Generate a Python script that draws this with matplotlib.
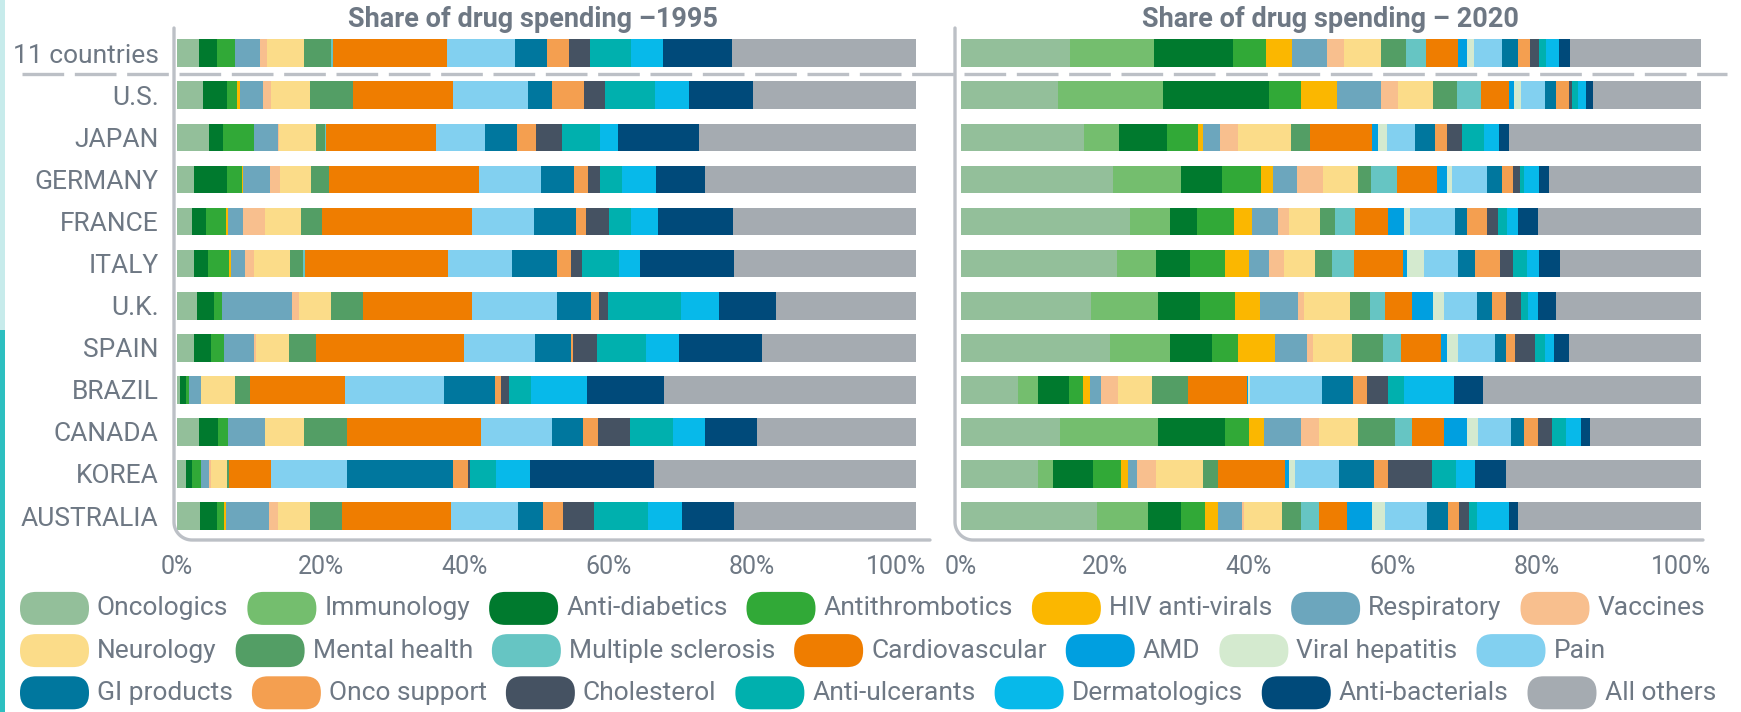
import numpy as np
import matplotlib.pyplot as plt
from matplotlib.patches import FancyBboxPatch, Rectangle
from matplotlib.lines import Line2D
from matplotlib.transforms import ScaledTranslation

categories = ['Oncologics', 'Immunology', 'Anti-diabetics', 'Antithrombotics',
              'HIV anti-virals', 'Respiratory', 'Vaccines', 'Neurology',
              'Mental health', 'Multiple sclerosis', 'Cardiovascular', 'AMD',
              'Viral hepatitis', 'Pain', 'GI products', 'Onco support',
              'Cholesterol', 'Anti-ulcerants', 'Dermatologics', 'Anti-bacterials',
              'All others']
colors = ['#93bf9a', '#74be6e', '#007a2e', '#31a937', '#fbb700', '#6ca6bd',
          '#f8bf8e', '#fbdc89', '#539e65', '#66c5c3', '#ef7d00', '#009fe0',
          '#d4eacf', '#82d0f0', '#00779e', '#f49f50', '#455262', '#00b0ae',
          '#07b9ea', '#004a7a', '#a5abb1']
countries = ['11 countries', 'U.S.', 'JAPAN', 'GERMANY', 'FRANCE', 'ITALY',
             'U.K.', 'SPAIN', 'BRAZIL', 'CANADA', 'KOREA', 'AUSTRALIA']

# share of drug spending 1995 (%), one list per country, in category order
s1995_all = [3.0, 0, 2.5, 2.4, 0, 3.4, 0.9, 5.0, 3.7, 0.2, 15.4, 0, 0, 9.2, 4.4, 2.9, 2.9, 5.5, 4.4, 9.3, 24.9]
s1995_us = [3.6, 0, 3.2, 1.4, 0.3, 3.2, 1.1, 5.2, 5.9, 0, 13.5, 0, 0, 10.1, 3.2, 4.4, 2.9, 6.7, 4.6, 8.7, 22.0]
s1995_japan = [4.4, 0, 1.8, 4.3, 0, 3.2, 0.1, 5.1, 1.1, 0.2, 14.9, 0, 0, 6.6, 4.3, 2.6, 3.5, 5.2, 2.4, 11.0, 29.3]
s1995_germany = [2.4, 0, 4.4, 2.0, 0.2, 3.6, 1.4, 4.1, 2.5, 0, 20.3, 0, 0, 8.4, 4.5, 1.8, 1.7, 2.9, 4.6, 6.6, 28.6]
s1995_france = [2.1, 0, 1.8, 2.8, 0.3, 2.0, 2.9, 4.9, 2.9, 0, 20.3, 0, 0, 8.3, 5.7, 1.3, 3.2, 2.9, 3.7, 10.1, 24.8]
s1995_italy = [2.4, 0, 1.8, 2.9, 0.3, 1.8, 1.2, 4.9, 1.8, 0.2, 19.4, 0, 0, 8.6, 6.1, 2.0, 1.4, 5.0, 2.9, 12.7, 24.6]
s1995_uk = [2.7, 0, 2.3, 1.1, 0, 9.5, 0.9, 4.4, 4.3, 0, 14.8, 0, 0, 11.4, 4.6, 1.1, 1.2, 9.9, 5.2, 7.6, 19.0]
s1995_spain = [2.4, 0, 2.3, 1.7, 0, 4.1, 0.2, 4.5, 3.7, 0, 19.9, 0, 0, 9.6, 4.9, 0.3, 3.2, 6.7, 4.4, 11.3, 20.8]
s1995_brazil = [0.4, 0, 0.9, 0.3, 0, 1.7, 0, 4.6, 2.0, 0, 12.8, 0, 0, 13.4, 6.9, 0.8, 1.2, 2.9, 7.6, 10.4, 34.1]
s1995_canada = [3.0, 0, 2.6, 1.4, 0, 5.0, 0, 5.2, 5.8, 0, 18.2, 0, 0, 9.6, 4.1, 2.1, 4.3, 5.8, 4.4, 7.0, 21.5]
s1995_korea = [1.2, 0, 0.9, 1.2, 0, 1.1, 0.2, 2.2, 0.3, 0, 5.7, 0, 0, 10.2, 14.4, 2.0, 0.3, 3.5, 4.6, 16.8, 35.4]
s1995_australia = [3.2, 0, 2.3, 0.9, 0.3, 5.8, 1.2, 4.3, 4.4, 0, 14.7, 0, 0, 9.0, 3.5, 2.6, 4.3, 7.3, 4.6, 7.0, 24.6]

# share of drug spending 2020 (%)
s2020_all = [14.8, 11.3, 10.7, 4.4, 3.6, 4.7, 2.3, 5.0, 3.3, 2.7, 4.4, 1.1, 1.0, 3.8, 2.1, 1.7, 1.2, 0.9, 1.8, 1.5, 17.7]
s2020_us = [13.1, 14.2, 14.3, 4.4, 4.8, 5.9, 2.3, 4.8, 3.2, 3.3, 3.8, 0.6, 0.9, 3.3, 1.5, 1.7, 0.5, 0.7, 1.1, 1.0, 14.6]
s2020_japan = [16.6, 4.8, 6.5, 4.2, 0.6, 2.3, 2.4, 7.2, 2.6, 0, 8.3, 0.9, 1.2, 3.8, 2.7, 1.5, 2.1, 2.9, 2.1, 1.4, 25.9]
s2020_germany = [20.5, 9.2, 5.6, 5.3, 1.6, 3.2, 3.5, 4.7, 1.8, 3.5, 5.4, 1.4, 0.6, 4.7, 2.1, 1.5, 0.9, 0.5, 2.1, 1.3, 20.6]
s2020_france = [22.8, 5.4, 3.7, 5.0, 2.4, 3.5, 1.5, 4.2, 2.0, 2.7, 4.5, 2.1, 0.9, 6.0, 1.7, 2.7, 1.4, 1.3, 1.4, 2.7, 22.1]
s2020_italy = [21.1, 5.3, 4.5, 4.8, 3.2, 2.7, 2.1, 4.1, 2.4, 2.9, 6.6, 0.5, 2.4, 4.5, 2.4, 3.3, 1.8, 1.8, 1.7, 2.8, 19.1]
s2020_uk = [17.6, 9.1, 5.6, 4.8, 3.3, 5.2, 0.7, 6.2, 2.7, 2.1, 3.6, 2.9, 1.4, 4.5, 2.1, 1.8, 2.1, 0.9, 1.4, 2.4, 19.6]
s2020_spain = [20.2, 8.0, 5.7, 3.5, 5.1, 4.2, 0.9, 5.3, 4.1, 2.4, 5.4, 0.9, 1.4, 5.0, 1.5, 1.2, 2.7, 1.4, 1.2, 2.1, 17.8]
s2020_brazil = [7.7, 2.7, 4.2, 1.9, 1.0, 1.5, 2.3, 4.5, 4.9, 0, 7.9, 0.2, 0.3, 9.7, 4.2, 1.8, 2.9, 2.1, 6.8, 3.9, 29.5]
s2020_canada = [13.4, 13.3, 9.0, 3.2, 2.0, 5.1, 2.4, 5.3, 5.0, 2.2, 4.4, 3.0, 1.6, 4.4, 1.8, 1.8, 2.0, 1.8, 2.1, 1.2, 15.0]
s2020_korea = [10.4, 2.1, 5.4, 3.7, 1.0, 1.2, 2.6, 6.3, 2.1, 0, 9.0, 0.5, 0.9, 5.9, 4.7, 1.9, 5.9, 3.3, 2.6, 4.1, 26.4]
s2020_australia = [18.4, 6.9, 4.5, 3.2, 1.8, 3.2, 0.2, 5.2, 2.6, 2.4, 3.8, 3.3, 1.8, 5.6, 2.9, 1.5, 1.4, 1.0, 4.4, 1.2, 24.7]

rows_1995 = [s1995_all, s1995_us, s1995_japan, s1995_germany, s1995_france, s1995_italy,
             s1995_uk, s1995_spain, s1995_brazil, s1995_canada, s1995_korea, s1995_australia]
rows_2020 = [s2020_all, s2020_us, s2020_japan, s2020_germany, s2020_france, s2020_italy,
             s2020_uk, s2020_spain, s2020_brazil, s2020_canada, s2020_korea, s2020_australia]

xticks = [0, 20, 40, 60, 80, 100]

plt.rcParams['font.family'] = ['Roboto', 'DejaVu Sans']

TXT = '#6e7884'
LINE = '#bcc0c6'
W, H = 1741, 712

fig = plt.figure(figsize=(W / 100, H / 100), dpi=100)

# thin strip at the left edge of the original graphic
fig.add_artist(Rectangle((0, 1 - 330 / H), 5 / W, 330 / H, transform=fig.transFigure,
                         color='#c7ebeb', lw=0))
fig.add_artist(Rectangle((0, 0), 5 / W, 1 - 330 / H, transform=fig.transFigure,
                         color='#2dbfc0', lw=0))

bottom = 1 - 540 / H
height = 512 / H
ax1 = fig.add_axes([174 / W, bottom, 756 / W, height])
ax2 = fig.add_axes([955 / W, bottom, 748 / W, height])


def rounded_spine(ax, r=18):
    pos = ax.get_position()
    w, h = pos.width * W, pos.height * H
    th = np.linspace(np.pi, 1.5 * np.pi, 20)
    xs = np.concatenate([[0], r / w + r / w * np.cos(th), [1]])
    ys = np.concatenate([[1], r / h + r / h * np.sin(th), [0]])
    ax.plot(xs, ys, transform=ax.transAxes, color=LINE, lw=2.4,
            solid_capstyle='round', clip_on=False, zorder=5)


def panel(ax, rows, xlim, labels):
    data = np.array(rows)
    y = np.arange(len(rows))
    left = np.zeros(len(rows))
    for j, c in enumerate(colors):
        ax.barh(y, data[:, j], left=left, height=0.66, color=c, linewidth=0)
        left += data[:, j]
    ax.set_xlim(*xlim)
    ax.set_ylim(11.57, -0.6)
    for s in ax.spines.values():
        s.set_visible(False)
    ax.set_xticks(xticks)
    ax.set_xticklabels([f'{t}%' for t in xticks])
    ax.tick_params(axis='x', length=0, pad=11, labelsize=18, labelcolor=TXT)
    # the original's tick labels sit slightly tighter than the bar scale
    for k, lab in enumerate(ax.get_xticklabels()):
        lab.set_transform(lab.get_transform() + ScaledTranslation(-0.04 * k, 0, fig.dpi_scale_trans))
    ax.set_yticks(y)
    if labels:
        ax.set_yticklabels(countries)
        ax.tick_params(axis='y', length=0, pad=11, labelsize=19, labelcolor=TXT)
    else:
        ax.tick_params(axis='y', length=0, labelleft=False)
    rounded_spine(ax)


panel(ax1, rows_1995, (-0.37, 101.9), True)
panel(ax2, rows_2020, (-0.77, 100.23), False)

fig.text(533 / W, 1 - 27 / H, 'Share of drug spending –1995', ha='center', va='baseline',
         fontsize=19.5, fontweight='semibold', color=TXT)
fig.text(1330 / W, 1 - 27 / H, 'Share of drug spending – 2020', ha='center', va='baseline',
         fontsize=19.5, fontweight='semibold', color=TXT)

# dashed separator under the aggregate row
fig.add_artist(Line2D([22 / W, 1727 / W], [1 - 74 / H, 1 - 74 / H], transform=fig.transFigure,
                      color=LINE, lw=2.4, linestyle=(0, (12.5, 3.2))))

# legend laid out as flowing text, three rows of seven
renderer = fig.canvas.get_renderer()
row_y = [608.4, 650.6, 692.8]
for r in range(3):
    x = 20
    yc = (H - row_y[r]) / 100
    for k in range(7):
        i = r * 7 + k
        fig.add_artist(FancyBboxPatch((x / 100, yc - 0.165), 0.69, 0.33,
                                      boxstyle='round,pad=0,rounding_size=0.16',
                                      transform=fig.dpi_scale_trans,
                                      facecolor=colors[i], edgecolor='none'))
        t = fig.text((x + 77) / 100, yc, categories[i], transform=fig.dpi_scale_trans,
                     va='center', ha='left', fontsize=19, color=TXT)
        bb = t.get_window_extent(renderer)
        x = bb.x1 + 19

fig.savefig('out.png', dpi=100)
